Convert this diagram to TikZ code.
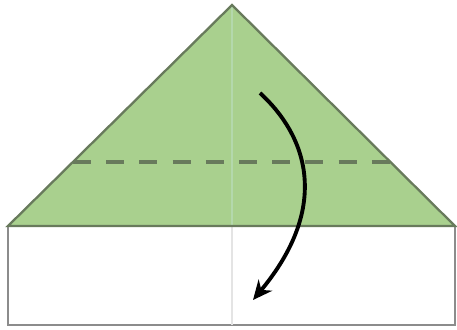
\documentclass[tikz,border=0pt]{standalone}
\usetikzlibrary{arrows.meta}

\definecolor{flapgreen}{RGB}{169,208,142}
\definecolor{flapedge}{RGB}{104,122,92}
\definecolor{paperedge}{RGB}{140,140,140}
\definecolor{creasegreen}{RGB}{180,216,172}
\definecolor{creasegray}{RGB}{228,228,228}

\begin{document}
\begin{tikzpicture}[
    x=0.02cm, y=-0.02cm,
    edge/.style={line width=1.3pt, line join=miter},
    foldline/.style={flapedge, line width=2pt, dash pattern=on 10.2pt off 8.7pt},
    turn/.style={-{Stealth[length=11pt,width=10pt]}, line width=2.2pt, black}
]

    % --- Frame ---
    \useasboundingbox (0,0) rectangle (457,329);

    % Coordinates
    \coordinate (T) at (232,5);     % Apex
    \coordinate (L) at (8,226);     % Left corner
    \coordinate (R) at (455,226);   % Right corner
    \coordinate (BL) at (8,325);    % Bottom left
    \coordinate (BR) at (455,325);  % Bottom right
    \coordinate (M) at (232,226);   % Middle of fold
    \coordinate (MB) at (232,325);  % Middle of bottom

    % Lower white part
    \draw[edge, paperedge, fill=white] (L) rectangle (BR);
    \draw[creasegray, line width=1.3pt] (M) -- (MB);

    % Upper green flap
    \fill[flapgreen] (L) -- (T) -- (R) -- cycle;
    \draw[creasegreen, line width=1.3pt] (T) -- (M);
    \draw[edge, flapedge] (L) -- (T) -- (R) -- cycle;

    % Dashed fold line
    \coordinate (FL) at (73,162);
    \coordinate (FR) at (390,162);
    \draw[foldline] (FL) -- (FR);

    % Arrow
    \coordinate (A0) at (260,93);
    \coordinate (A1) at (253,300);
    \draw[turn] (A0) .. controls (306,135) and (332,205) .. (A1);

\end{tikzpicture}
\end{document}
